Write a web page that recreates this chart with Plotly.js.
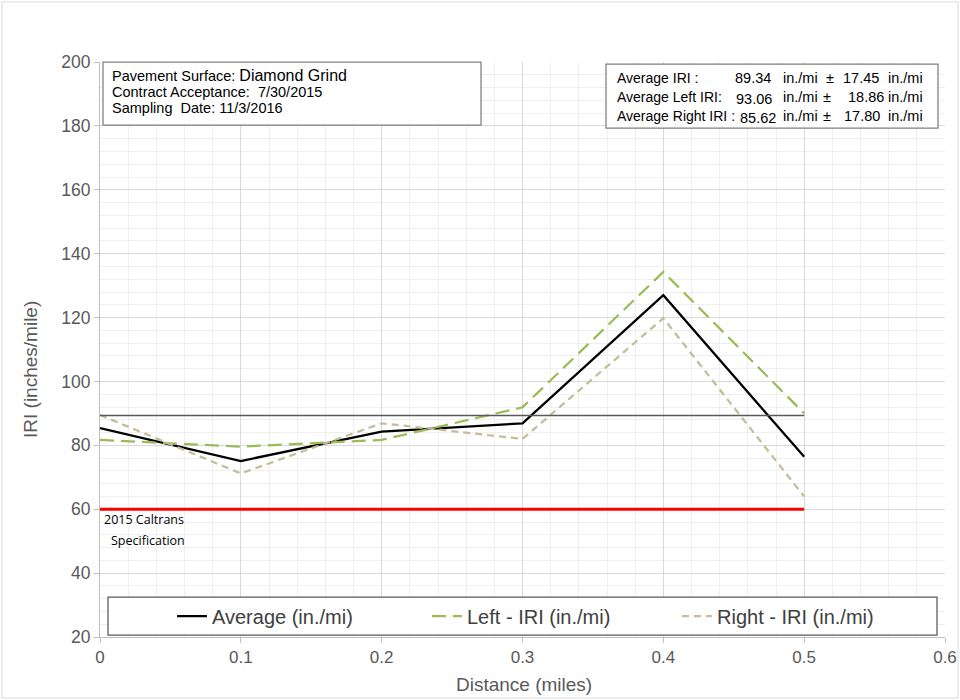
<!DOCTYPE html>
<html><head><meta charset="utf-8">
<script src="https://cdn.plot.ly/plotly-3.0.1.min.js"></script>
<style>html,body{margin:0;padding:0;background:#fff}</style>
</head><body>
<div id="chart" style="width:960px;height:700px"></div>
<script>
// Data
const distance = [0, 0.1, 0.2, 0.3, 0.4, 0.5];
const averageIRI = [85.4, 75.1, 84.3, 86.9, 127.0, 76.4];
const leftIRI = [81.7, 79.6, 81.7, 91.9, 134.3, 90.0];
const rightIRI = [89.5, 71.2, 86.9, 82.0, 119.8, 64.0];
const overallAverage = 89.34;
const specLimit = 60;
const seriesNames = ["Average (in./mi)", "Left - IRI (in./mi)", "Right - IRI (in./mi)"];
const statLabels = ["Average IRI :", "Average Left IRI:", "Average Right IRI :"];
const statMeans = ["89.34", "93.06", "85.62"];
const statSDs = ["17.45", "18.86", "17.80"];
const infoLines = ["Pavement Surface:", "Contract Acceptance:  7/30/2015", "Sampling  Date: 11/3/2016"];
const surfaceType = "Diamond Grind";

const L = 100, R = 945, T = 62, B = 637;
const px = x => (x - L) / (R - L);
const py = y => (B - y) / (B - T);

const traces = [
  {x: distance, y: averageIRI, name: seriesNames[0], mode: "lines", legend: "legend",
   line: {color: "#000000", width: 2.25}},
  {x: distance, y: leftIRI, name: seriesNames[1], mode: "lines", legend: "legend2",
   line: {color: "#9BBB59", width: 2.25, dash: "14px,7px"}},
  {x: distance, y: rightIRI, name: seriesNames[2], mode: "lines", legend: "legend3",
   line: {color: "#C4BD97", width: 2.25, dash: "7px,5px"}},
  {x: [distance[0], distance[distance.length-1]], y: [overallAverage, overallAverage],
   mode: "lines", showlegend: false, hoverinfo: "skip",
   line: {color: "#595959", width: 1.5}},
  {x: [distance[0], distance[distance.length-1]], y: [specLimit, specLimit],
   mode: "lines", showlegend: false, hoverinfo: "skip",
   line: {color: "#FF0000", width: 3}}
];

const font = "Liberation Sans, Arial, sans-serif";
const ann = [];
const f14 = {family:font, size:14.5, color:"#000"};
const f14s = {family:font, size:14, color:"#000"};
// info box
ann.push({xref:"paper", yref:"paper", x: px(110), y: py(75), xanchor:"left", yanchor:"middle",
  text: infoLines[0] + " <span style='font-size:16px'>" + surfaceType + "</span>", showarrow:false, font:f14});
ann.push({xref:"paper", yref:"paper", x: px(110), y: py(92), xanchor:"left", yanchor:"middle",
  text: infoLines[1], showarrow:false, font:f14});
ann.push({xref:"paper", yref:"paper", x: px(110), y: py(108), xanchor:"left", yanchor:"middle",
  text: infoLines[2], showarrow:false, font:f14});
// stats box
const rowY = [78, 97, 116];
const meanX = [733, 734, 738];
const pmX = [824, 821, 821];
const sdX = [841, 846, 842];
for (let i = 0; i < 3; i++) {
  ann.push({xref:"paper", yref:"paper", x: px(615), y: py(rowY[i]), xanchor:"left", yanchor:"middle", text: statLabels[i], showarrow:false, font:f14s});
  ann.push({xref:"paper", yref:"paper", x: px(meanX[i]), y: py(rowY[i] + (i>0?2:0)), xanchor:"left", yanchor:"middle", text: statMeans[i], showarrow:false, font:f14});
  ann.push({xref:"paper", yref:"paper", x: px(781), y: py(rowY[i]), xanchor:"left", yanchor:"middle", text: "in./mi", showarrow:false, font:f14});
  ann.push({xref:"paper", yref:"paper", x: px(pmX[i]), y: py(rowY[i]), xanchor:"left", yanchor:"middle", text: "±", showarrow:false, font:f14});
  ann.push({xref:"paper", yref:"paper", x: px(sdX[i]), y: py(rowY[i]), xanchor:"left", yanchor:"middle", text: statSDs[i], showarrow:false, font:f14});
  ann.push({xref:"paper", yref:"paper", x: px(886), y: py(rowY[i]), xanchor:"left", yanchor:"middle", text: "in./mi", showarrow:false, font:f14});
}
// spec label
const specFont = {family:"Open Sans, sans-serif", size:12.5, color:"#000"};
ann.push({xref:"paper", yref:"paper", x: px(144), y: py(519), xanchor:"center", yanchor:"middle",
  text: "2015 Caltrans", showarrow:false, font: specFont});
ann.push({xref:"paper", yref:"paper", x: px(148), y: py(540), xanchor:"center", yanchor:"middle",
  text: "Specification", showarrow:false, font: specFont});
// axis titles
ann.push({xref:"paper", yref:"paper", x: px(524), y: py(684), xanchor:"center", yanchor:"middle",
  text: "Distance (miles)", showarrow:false, font:{family:font, size:19, color:"#595959"}});
ann.push({xref:"paper", yref:"paper", x: px(30), y: py(370), xanchor:"center", yanchor:"middle", textangle:-90,
  text: "IRI (inches/mile)", showarrow:false, font:{family:font, size:19, color:"#595959"}});

const shapes = [
  {type:"rect", xref:"paper", yref:"paper", x0: px(103), x1: px(481), y0: py(62), y1: py(125),
   line:{color:"#7f7f7f", width:1.25}, fillcolor:"#fff", layer:"above"},
  {type:"rect", xref:"paper", yref:"paper", x0: px(606), x1: px(938), y0: py(64), y1: py(128),
   line:{color:"#7f7f7f", width:1.25}, fillcolor:"#fff", layer:"above"},
  {type:"rect", xref:"paper", yref:"paper", x0: px(108), x1: px(937), y0: py(597), y1: py(635),
   line:{color:"#595959", width:1.25}, fillcolor:"#fff", layer:"above"},
  {type:"rect", xref:"paper", yref:"paper", x0: px(2), x1: px(958), y0: py(2), y1: py(698),
   line:{color:"#d9d9d9", width:1}, fillcolor:"rgba(0,0,0,0)", layer:"below"}
];

const legFont = {family: font, size: 20, color: "#404040"};
const mkLeg = xp => ({orientation: "h", x: px(xp), y: py(616), xanchor: "left", yanchor: "middle",
  bgcolor: "rgba(0,0,0,0)", borderwidth: 0, itemwidth: 30, font: legFont});

const layout = {
  width: 960, height: 700,
  margin: {l: L, r: 960 - R, t: T, b: 700 - B},
  paper_bgcolor: "#fff", plot_bgcolor: "#fff",
  showlegend: true,
  legend: mkLeg(172),
  legend2: mkLeg(427),
  legend3: mkLeg(677),
  xaxis: {range: [0, 0.6], dtick: 0.1, tick0: 0, showgrid: true, gridcolor: "#d9d9d9", gridwidth: 1,
    minor: {dtick: 0.02, showgrid: true, gridcolor: "#efefef", gridwidth: 1},
    zeroline: false, showline: true, linecolor: "#bfbfbf", ticks: "outside", ticklen: 5, tickcolor: "#bfbfbf",
    tickfont: {family: font, size: 17, color: "#595959"}},
  yaxis: {range: [20, 200], dtick: 20, tick0: 20, showgrid: true, gridcolor: "#d9d9d9", gridwidth: 1,
    minor: {dtick: 4, showgrid: true, gridcolor: "#efefef", gridwidth: 1},
    zeroline: false, showline: true, linecolor: "#bfbfbf", ticks: "outside", ticklen: 5, tickcolor: "#bfbfbf",
    tickfont: {family: font, size: 17.5, color: "#595959"}},
  annotations: ann,
  shapes: shapes
};

Plotly.newPlot("chart", traces, layout, {displayModeBar: false, staticPlot: true});
</script>
</body></html>
